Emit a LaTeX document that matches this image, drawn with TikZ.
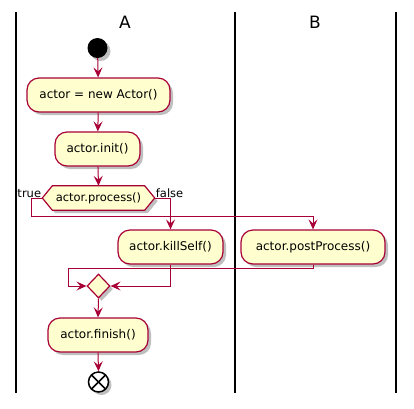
\documentclass[tikz,border=0pt]{standalone}
\usepackage{fontspec}
\setmainfont{DejaVu Sans}
\usetikzlibrary{arrows.meta,shapes.geometric,shadows,calc}
\definecolor{umlred}{HTML}{A80036}
\definecolor{umlfill}{HTML}{FEFECE}
\tikzset{
  shad/.style={drop shadow={shadow xshift=3pt,shadow yshift=-3pt,opacity=0.25,fill=black}},
  act/.style={draw=umlred,fill=umlfill,line width=1.2pt,rounded corners=12pt,minimum height=34pt,inner sep=0pt,font=\fontsize{12}{14}\selectfont,shad},
  flow/.style={draw=umlred,line width=1pt,-{Stealth[length=10pt,width=9pt,inset=4pt]}},
  lane/.style={draw=black,line width=2pt},
  ttl/.style={font=\fontsize{17}{20}\selectfont},
  lbl/.style={font=\fontsize{11.5}{13}\selectfont,inner sep=1pt}
}
\begin{document}
\begin{tikzpicture}[x=1pt,y=-1pt]
\useasboundingbox (0,0) rectangle (414,408);
% lanes
\coordinate (l1t) at (15.5,12); \coordinate (l1b) at (15.5,393);
\coordinate (l2t) at (234.5,12); \coordinate (l2b) at (234.5,393);
\coordinate (l3t) at (395.5,12); \coordinate (l3b) at (395.5,393);
\draw[lane] (l1t) -- (l1b);
\draw[lane] (l2t) -- (l2b);
\draw[lane] (l3t) -- (l3b);
\node[ttl] (ta) at (125,22.5) {A};
\node[ttl] (tb) at (315,22.5) {B};
% nodes
\node[circle,fill=black,minimum size=20pt,inner sep=0pt,shad] (start) at (97.5,48) {};
\node[act,minimum width=143pt] (a1) at (98.5,95) {actor = new Actor()};
\node[act,minimum width=85pt] (a2) at (97.5,149) {actor.init()};
\node[minimum width=112pt,minimum height=24pt,inner sep=0pt] (dec) at (98.5,198) {};
\fill[black,opacity=0.25] ($(dec.west)+(3,3)$) -- ($(dec.north west)+(13,3)$) -- ($(dec.north east)+(-7,3)$) -- ($(dec.east)+(3,3)$) -- ($(dec.south east)+(-7,3)$) -- ($(dec.south west)+(13,3)$) -- cycle;
\draw[umlred,fill=umlfill,line width=1.2pt] (dec.west) -- ($(dec.north west)+(10,0)$) -- ($(dec.north east)+(-10,0)$) -- (dec.east) -- ($(dec.south east)+(-10,0)$) -- ($(dec.south west)+(10,0)$) -- cycle;
\node[font=\fontsize{11.5}{13}\selectfont] (dect) at (dec.center) {actor.process()};
\node[act,minimum width=105pt] (ks) at (170.5,247) {actor.killSelf()};
\node[act,minimum width=144pt] (pp) at (313,247) {actor.postProcess()};
\node[diamond,draw=umlred,fill=umlfill,line width=1.2pt,minimum width=23pt,minimum height=24pt,inner sep=0pt,shad] (mg) at (98.5,286) {};
\node[act,minimum width=100pt] (fin) at (98,335) {actor.finish()};
\node[circle,draw=black,fill=white,line width=1.5pt,minimum size=20pt,inner sep=0pt,shad] (end) at (98.5,382) {};
\draw[black,line width=1.5pt,shorten <=1pt,shorten >=1pt] (end.north east) -- (end.south west);
\draw[black,line width=1.5pt,shorten <=1pt,shorten >=1pt] (end.north west) -- (end.south east);
% labels
\node[lbl,anchor=south east] (ltrue) at ($(dec.west)+(0,1)$) {true};
\node[lbl,anchor=south west] (lfalse) at ($(dec.east)+(0,1)$) {false};
% connectors
\coordinate (tl) at (31,216);
\coordinate (pl) at (68,268);
\draw[flow] (start) -- (a1);
\draw[flow] (a1) -- (a2);
\draw[flow] (a2) -- (dec.north);
\draw[flow] (dec.west) -| (tl) -| (pp.north);
\draw[flow] (dec.east) -| (ks.north);
\draw[flow] (ks.south) |- (mg.east);
\draw[flow] (pp.south) |- (pl) |- (mg.west);
\draw[flow] (mg.south) -- (fin.north);
\draw[flow] (fin.south) -- (end.north);
\end{tikzpicture}
\end{document}
